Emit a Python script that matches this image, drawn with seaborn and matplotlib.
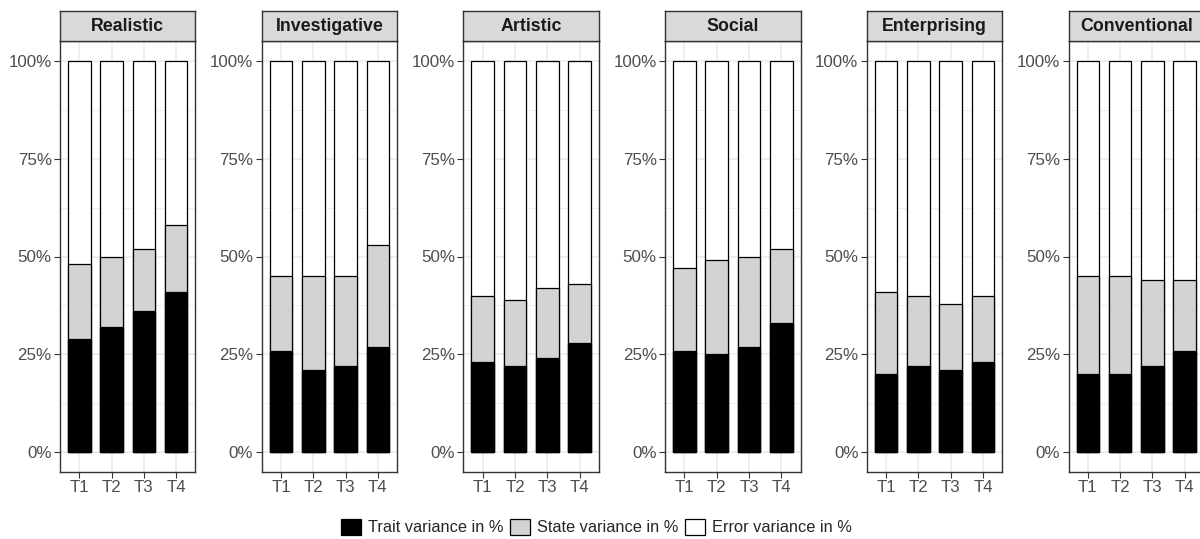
import numpy as np
import pandas as pd
import matplotlib
matplotlib.use("Agg")
import matplotlib.pyplot as plt
import seaborn as sns
from matplotlib.patches import Patch
from matplotlib.ticker import FuncFormatter, FixedLocator

# RIASEC interest scales and measurement waves
scales = ["Realistic", "Investigative", "Artistic", "Social", "Enterprising", "Conventional"]
waves = ["T1", "T2", "T3", "T4"]

# Variance decomposition (percent) per scale and wave
trait_pct = {
    "Realistic":     [29, 32, 36, 41],
    "Investigative": [26, 21, 22, 27],
    "Artistic":      [23, 22, 24, 28],
    "Social":        [26, 25, 27, 33],
    "Enterprising":  [20, 22, 21, 23],
    "Conventional":  [20, 20, 22, 26],
}
state_pct = {
    "Realistic":     [19, 18, 16, 17],
    "Investigative": [19, 24, 23, 26],
    "Artistic":      [17, 17, 18, 15],
    "Social":        [21, 24, 23, 19],
    "Enterprising":  [21, 18, 17, 17],
    "Conventional":  [25, 25, 22, 18],
}
error_pct = {
    "Realistic":     [52, 50, 48, 42],
    "Investigative": [55, 55, 55, 47],
    "Artistic":      [60, 61, 58, 57],
    "Social":        [53, 51, 50, 48],
    "Enterprising":  [59, 60, 62, 60],
    "Conventional":  [55, 55, 56, 56],
}
legend_labels = ["Trait variance in %", "State variance in %", "Error variance in %"]

rows = []
for s in scales:
    for i, w in enumerate(waves):
        rows.append(dict(scale=s, wave=w, trait=trait_pct[s][i],
                         state=state_pct[s][i], error=error_pct[s][i]))
df = pd.DataFrame(rows)
df["trait_top"] = df["trait"]
df["state_top"] = df["trait"] + df["state"]
df["error_top"] = df["state_top"] + df["error"]

sns.set_theme(style="white")
plt.rcParams["font.family"] = ["Liberation Sans", "DejaVu Sans"]

W, H = 1200, 539
fig = plt.figure(figsize=(W / 100, H / 100), dpi=100)

fills = [("error_top", "#FFFFFF"), ("state_top", "#D3D3D3"), ("trait_top", "#000000")]
frame_col = "#333333"

panel_w = 135.5
for k, s in enumerate(scales):
    left = 60 + k * 201.7
    ax = fig.add_axes([left / W, (H - 472) / H, panel_w / W, 431 / H])
    sub = df[df["scale"] == s]
    for col, fc in fills:
        sns.barplot(data=sub, x="wave", y=col, order=waves, color=fc,
                    edgecolor="black", linewidth=0.9, width=0.7,
                    saturation=1, errorbar=None, ax=ax, zorder=3)
    ax.set_xlim(-0.6, 3.6)
    ax.set_ylim(-5, 105)
    ax.yaxis.set_major_locator(FixedLocator([0, 25, 50, 75, 100]))
    ax.yaxis.set_minor_locator(FixedLocator([12.5, 37.5, 62.5, 87.5]))
    ax.yaxis.set_major_formatter(FuncFormatter(lambda v, p: f"{int(v)}%"))
    ax.set_axisbelow(True)
    ax.grid(True, which="major", color="#EBEBEB", linewidth=1.1, zorder=0)
    ax.grid(True, which="minor", axis="y", color="#EBEBEB", linewidth=0.55, zorder=0)
    ax.set_xlabel("")
    ax.set_ylabel("")
    for sp in ax.spines.values():
        sp.set_color(frame_col)
        sp.set_linewidth(1.0)
        sp.set_visible(True)
    ax.tick_params(axis="both", which="major", length=4, width=0.8,
                   color=frame_col, labelcolor="#4D4D4D", labelsize=12.2,
                   direction="out", pad=2)
    ax.tick_params(axis="y", which="minor", length=0)
    ax.tick_params(axis="x", bottom=True)
    ax.tick_params(axis="y", left=True)

    strip = fig.add_axes([left / W, (H - 41) / H, panel_w / W, 30 / H])
    strip.set_facecolor("#D9D9D9")
    strip.set_xticks([])
    strip.set_yticks([])
    for sp in strip.spines.values():
        sp.set_color(frame_col)
        sp.set_linewidth(1.0)
    strip.text(0.5, 0.47, s, ha="center", va="center", fontsize=12.8,
               fontweight="bold", color="#1A1A1A", transform=strip.transAxes)

handles = [Patch(facecolor="#000000", edgecolor="black", linewidth=0.9),
           Patch(facecolor="#D3D3D3", edgecolor="black", linewidth=0.9),
           Patch(facecolor="#FFFFFF", edgecolor="black", linewidth=0.9)]
fig.legend(handles, legend_labels, loc="center", bbox_to_anchor=(0.497, (H - 527) / H),
           ncol=3, frameon=False, fontsize=11.8, handlelength=1.2, handleheight=1.2,
           handletextpad=0.45, columnspacing=0.4, borderaxespad=0, borderpad=0)

fig.savefig("out.png", dpi=100)
